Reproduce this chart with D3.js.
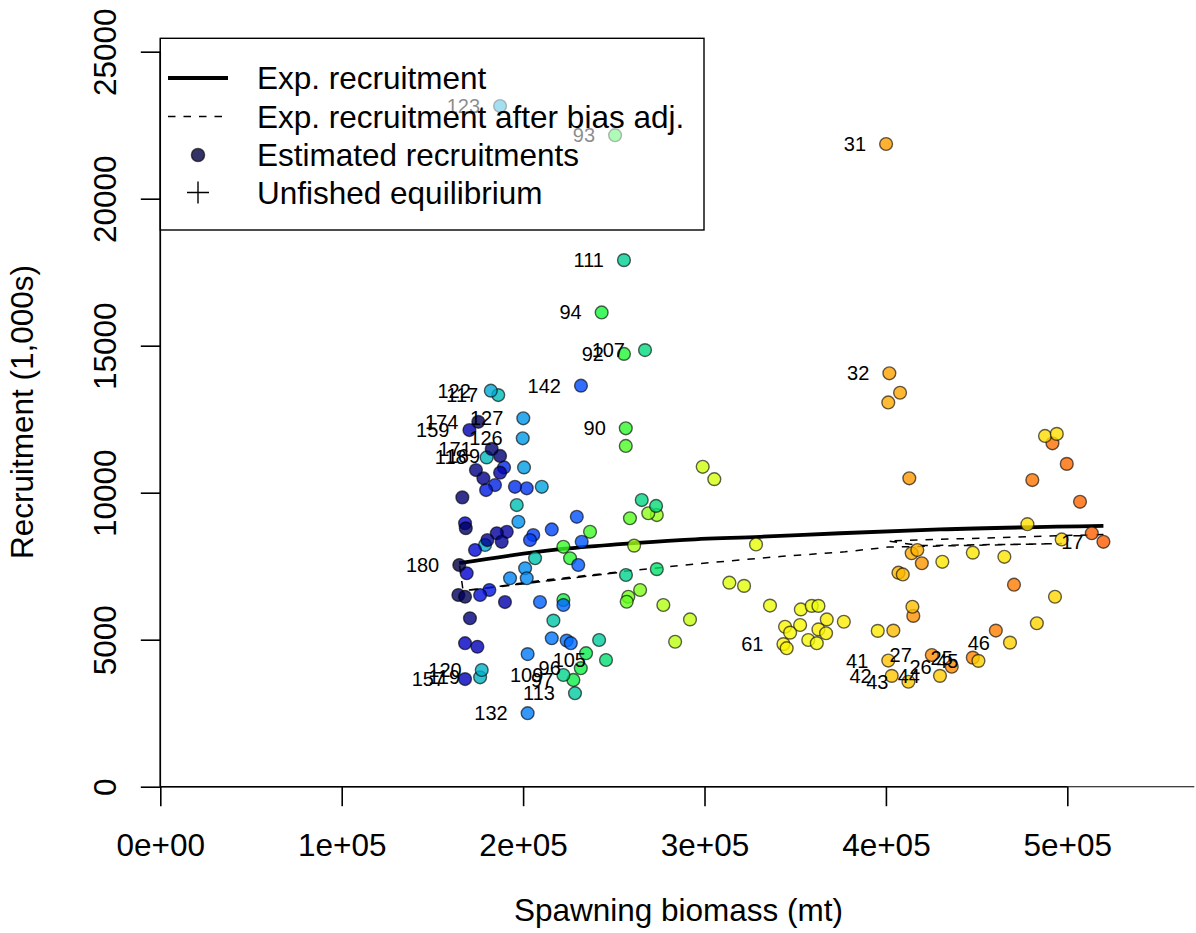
<!DOCTYPE html>
<html>
<head>
<meta charset="utf-8">
<script src="https://cdn.jsdelivr.net/npm/d3@7"></script>
<style>
  html, body { margin: 0; padding: 0; background: #fff; }
  svg { display: block; font-family: "Liberation Sans", Arial, Helvetica, sans-serif; }
</style>
</head>
<body>
<svg id="chart" width="1196" height="933"></svg>
<script>
// Stock–recruitment estimates by model year
const years = [17,18,19,20,21,22,23,24,25,26,27,28,29,30,31,32,33,34,35,36,37,38,39,40,41,42,43,44,45,46,47,48,49,50,
  51,52,53,54,55,56,57,58,59,60,61,62,63,64,65,66,67,68,69,70,71,72,73,74,75,76,77,78,79,80,81,82,83,84,85,86,87,88,89,90,
  91,92,93,94,95,96,97,98,104,105,106,107,108,109,110,111,112,113,114,115,116,117,118,119,120,121,122,123,124,125,126,127,
  128,129,130,131,132,133,134,135,136,137,138,139,140,141,142,143,144,145,146,147,148,149,150,151,152,153,154,155,156,157,
  158,159,160,161,162,163,164,165,166,167,168,169,170,171,172,173,174,175,180];

// Spawning biomass (mt)
const spawningBiomass = [519900,513500,507000,499700,491800,480700,470600,460600,447900,436300,425300,415100,419800,412900,
  400100,401900,407800,401300,414200,417300,406900,409300,404100,414600,401300,403200,412400,429800,451000,468400,483200,
  493200,496900,487700,494200,478000,465300,447900,431100,395500,376800,367400,362800,367000,343500,345300,344400,347200,
  352700,357200,361900,353100,359100,362800,336100,328400,321800,313700,305400,299000,292000,283800,277300,261200,273700,
  269000,264500,258000,257100,258900,256600,236900,222200,256600,225900,255600,250700,243300,222200,231800,227700,234700,
  273700,245700,273300,267200,265400,222200,256700,255600,241900,228600,216700,206600,196500,186300,179900,176300,177200,
  179000,182200,187300,210300,200500,199800,200100,197400,201100,202000,192800,202500,202500,215800,224000,226300,222200,
  209300,230400,232300,229600,231900,215800,205600,203800,202000,195500,189500,184500,179600,181400,176300,173500,168900,
  168000,168000,168000,174800,170400,190000,187300,191000,185500,188200,180300,178100,174000,170700,187300,166500,182700,
  168400,164300,175300,168000,164800];

// Estimated recruitment (1,000s)
const recruitment = [8330,8620,9690,10980,11680,10430,6870,5310,4390,4080,4480,5810,7600,10490,21860,14060,13400,13070,
  7940,8050,7280,7220,5310,6120,4290,3770,3570,3770,4280,4900,5560,6460,8410,11930,12000,8930,7820,7960,7650,5300,5610,
  5690,5350,5220,4850,4710,5440,5240,5500,4990,4880,6030,6150,6150,6160,8240,6830,6940,10460,10880,5690,4930,6180,8200,
  9240,9300,6690,6460,6290,9130,11590,8670,8160,12190,7770,14720,22160,16130,6350,4030,3630,4540,7400,4310,9550,14850,
  9750,3800,7200,17910,4990,3180,5650,7770,9580,13320,11200,3720,3970,8220,13470,23150,10200,10860,11850,12530,9010,7430,
  7090,7090,2500,4510,5050,4970,4880,6180,6280,7540,8330,9180,13640,8750,8560,8390,10150,10200,10860,10260,10090,6690,
  6520,8050,7260,8960,4880,3660,4760,12130,6280,10680,8670,8620,8330,8390,10490,10770,5730,11250,9840,11490,8790,6520,
  12410,6460,7540];

// Years whose points carry a text label
const labelledYears = [17,25,26,27,31,32,41,42,43,44,45,46,61,90,92,93,94,96,97,105,107,109,111,113,117,118,119,120,
  122,123,126,127,132,142,157,159,169,171,174,180];

// Expected recruitment curve (spawner–recruit relationship)
const curveBiomass = [164800,220400,253400,286500,330600,374700,429800,519900];
const curveRecruits = [7600,8080,8250,8390,8500,8620,8750,8870];

// Expected recruitment after bias adjustment, traced in year order
const biasBiomass = [519900,401200,418800,497100,401200,377500,341600,297500,253400,209300,168900,253400,166900,164800];
const biasRecruits = [8580,8360,8200,8270,8150,7990,7830,7590,7310,7010,6670,7290,6670,7600];

// Axis ticks
const xTicks = [0,100000,200000,300000,400000,500000];
const xTickLabels = ["0e+00","1e+05","2e+05","3e+05","4e+05","5e+05"];
const yTicks = [0,5000,10000,15000,20000,25000];
const yTickLabels = ["0","5000","10000","15000","20000","25000"];

const legendLabels = ["Exp. recruitment","Exp. recruitment after bias adj.","Estimated recruitments","Unfished equilibrium"];

// Palette span: newest year -> navy, oldest -> warm red end
const colorYears = [10, 180];

function richColor(t, alpha) {
  const r = 1 / (1 + Math.exp(20 - 35 * t));
  const g = Math.min(Math.max(0, -0.8 + 6 * t - 5 * t * t), 1);
  const b = Math.exp(-0.5 * Math.pow((t - 0.25) / 0.15, 2));
  return `rgba(${Math.round(r * 255)},${Math.round(g * 255)},${Math.round(b * 255)},${alpha})`;
}
const yearColor = yr => richColor((colorYears[1] - yr) / (colorYears[1] - colorYears[0]), 0.8);

const FS = 31.5;
const svg = d3.select("#chart");

const x = d3.scaleLinear().domain([0, 570000]).range([160.3, 1194.3]);
const y = d3.scaleLinear().domain([0, 25455]).range([786.7, 38.3]);

// Reference lines at zero
svg.append("line").attr("x1", x(0)).attr("x2", x.range()[1]).attr("y1", y(0)).attr("y2", y(0))
  .attr("stroke", "#000").attr("stroke-width", 1.1);
svg.append("line").attr("x1", x(0)).attr("x2", x(0)).attr("y1", y(0)).attr("y2", y.range()[1])
  .attr("stroke", "#000").attr("stroke-width", 1.1);

// X axis
const gx = svg.append("g").attr("transform", `translate(0,${y(0)})`)
  .call(d3.axisBottom(x).tickValues(xTicks).tickFormat((d, i) => xTickLabels[i]).tickSize(19.5));
gx.select(".domain").remove();
gx.append("line").attr("x1", x(xTicks[0])).attr("x2", x(xTicks[xTicks.length - 1]))
  .attr("stroke", "#000").attr("stroke-width", 1.6);
gx.selectAll(".tick line").attr("stroke-width", 1.6);
gx.selectAll(".tick text").attr("y", 69.3).attr("dy", null)
  .attr("font-size", FS).attr("font-family", "Liberation Sans, Arial, sans-serif").attr("fill", "#000");

// Y axis
const gy = svg.append("g").attr("transform", `translate(${x(0)},0)`)
  .call(d3.axisLeft(y).tickValues(yTicks).tickFormat((d, i) => yTickLabels[i]).tickSize(19.5));
gy.select(".domain").remove();
gy.append("line").attr("y1", y(yTicks[0])).attr("y2", y(yTicks[yTicks.length - 1]))
  .attr("stroke", "#000").attr("stroke-width", 1.6);
gy.selectAll(".tick line").attr("stroke-width", 1.6);
gy.selectAll(".tick text").attr("transform", "rotate(-90)").attr("x", 0).attr("y", -44).attr("dy", null)
  .attr("text-anchor", "middle").attr("font-size", FS)
  .attr("font-family", "Liberation Sans, Arial, sans-serif").attr("fill", "#000");

// Axis titles
svg.append("text").attr("x", 678.5).attr("y", 921).attr("text-anchor", "middle")
  .attr("font-size", FS).text("Spawning biomass (mt)");
svg.append("text").attr("transform", "translate(33,412) rotate(-90)").attr("text-anchor", "middle")
  .attr("font-size", FS).text("Recruitment (1,000s)");

// Expected recruitment curves
const line = d3.line().x(d => x(d[0])).y(d => y(d[1]));
svg.append("path").datum(d3.zip(curveBiomass, curveRecruits))
  .attr("d", line.curve(d3.curveMonotoneX)).attr("fill", "none").attr("stroke", "#000").attr("stroke-width", 3.8);
svg.append("path").datum(d3.zip(biasBiomass, biasRecruits))
  .attr("d", d3.line().x(d => x(d[0])).y(d => y(d[1]))).attr("fill", "none").attr("stroke", "#000")
  .attr("stroke-width", 1.5).attr("stroke-dasharray", "7.5,8");

// Recruitment points, oldest first so recent years sit on top
const pts = years.map((yr, i) => ({ yr, s: spawningBiomass[i], r: recruitment[i] }));
svg.append("g").selectAll("circle").data(pts).join("circle")
  .attr("cx", d => x(d.s)).attr("cy", d => y(d.r)).attr("r", 6.4)
  .attr("fill", d => yearColor(d.yr)).attr("stroke", "rgba(0,0,0,0.62)").attr("stroke-width", 1.4);

// Year labels
svg.append("g").selectAll("text").data(pts.filter(d => labelledYears.includes(d.yr))).join("text")
  .attr("x", d => x(d.s) - 20).attr("y", d => y(d.r) + 7).attr("text-anchor", "end")
  .attr("font-size", 20).attr("fill", "#000").text(d => d.yr);

// Legend
const lg = svg.append("g");
lg.append("rect").attr("x", 160.3).attr("y", 38.3).attr("width", 543.7).attr("height", 191.7)
  .attr("fill", "rgba(255,255,255,0.55)").attr("stroke", "#000").attr("stroke-width", 1.4);
const rows = [78, 116.5, 155, 192.5];
const symX = 198, lineX0 = 168, lineX1 = 228;
lg.append("line").attr("x1", lineX0).attr("x2", lineX1).attr("y1", rows[0]).attr("y2", rows[0])
  .attr("stroke", "#000").attr("stroke-width", 3.8);
lg.append("line").attr("x1", lineX0).attr("x2", lineX1).attr("y1", rows[1]).attr("y2", rows[1])
  .attr("stroke", "#000").attr("stroke-width", 1.5).attr("stroke-dasharray", "7.5,8");
lg.append("circle").attr("cx", symX).attr("cy", rows[2]).attr("r", 6.6)
  .attr("fill", yearColor(colorYears[1])).attr("stroke", "rgba(0,0,0,0.62)").attr("stroke-width", 1.4);
lg.append("path").attr("d", `M${symX - 11},${rows[3]}H${symX + 11}M${symX},${rows[3] - 11}V${rows[3] + 11}`)
  .attr("stroke", "#000").attr("stroke-width", 1.4);
lg.selectAll("text.lab").data(legendLabels).join("text").attr("class", "lab")
  .attr("x", 257).attr("y", (d, i) => rows[i] + 11).attr("font-size", FS).attr("fill", "#000").text(d => d);
</script>
</body>
</html>
